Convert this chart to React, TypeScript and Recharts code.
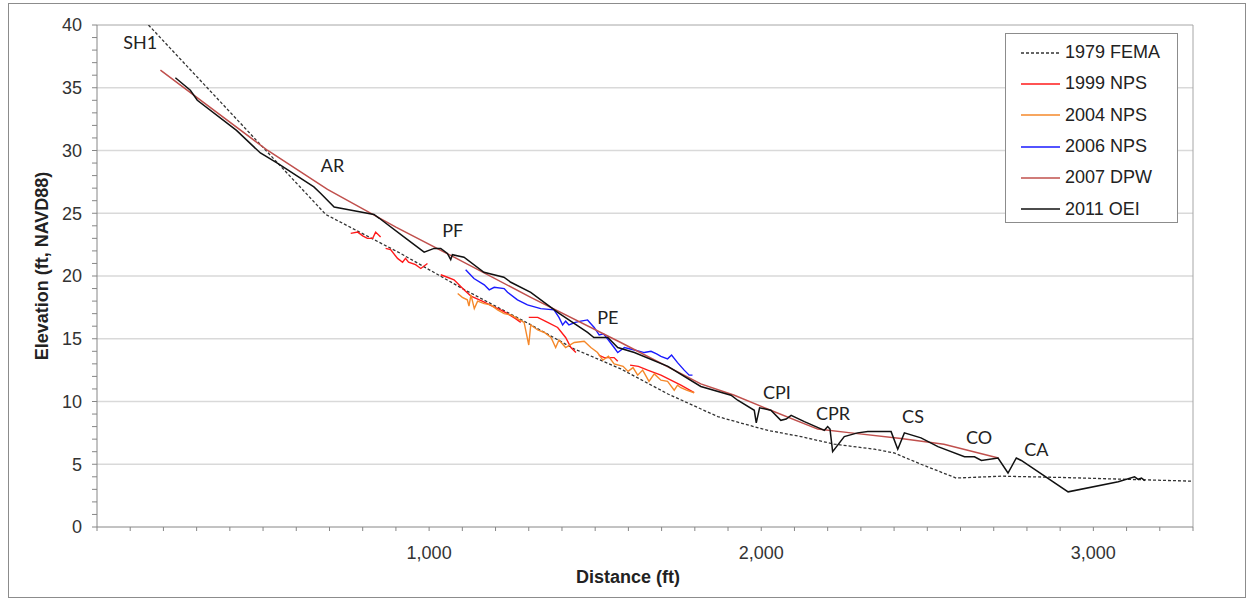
import React from 'react'
import { LineChart, Line, XAxis, YAxis, ReferenceLine, ReferenceDot, Legend, Label } from 'recharts'

// distance (ft), elevation (ft NAVD88)
const fema1979 = [
  [155, 40], [689, 24.9], [914, 21.8], [1100, 19.0], [1300, 16.2], [1436, 14.2], [1577, 12.6],
  [1719, 10.6], [1869, 8.8], [1950, 8.2], [2020, 7.7], [2120, 7.2], [2220, 6.6], [2341, 6.2],
  [2400, 5.9], [2481, 5.0], [2587, 3.9], [2723, 4.05], [2900, 3.95], [3100, 3.8], [3300, 3.65],
]

const nps1999Segments = [
  [[764, 23.4], [785, 23.5], [800, 23.2], [814, 23.0], [830, 23.0], [839, 23.5], [854, 23.1]],
  [[869, 22.2], [884, 22.1], [905, 21.4], [920, 21.1], [929, 21.4], [938, 21.1], [959, 20.9], [975, 20.6], [995, 21.0]],
  [[1035, 20.1], [1055, 19.9], [1075, 19.7], [1090, 19.3], [1105, 18.9], [1126, 18.4], [1160, 18.0], [1190, 17.6],
    [1215, 17.3], [1236, 17.0], [1260, 16.6], [1276, 16.3]],
  [[1300, 16.7], [1327, 16.7], [1357, 16.3], [1387, 15.9], [1411, 15.1], [1427, 14.3], [1442, 13.9]],
  [[1511, 13.7], [1527, 13.5], [1557, 13.5], [1568, 13.2]],
  [[1605, 12.9], [1630, 12.8], [1658, 12.5], [1698, 12.1], [1728, 11.7], [1758, 11.3], [1798, 10.7]],
]

const nps2004 = [
  [1086, 18.6], [1100, 18.3], [1115, 18.1], [1120, 17.6], [1126, 18.5], [1136, 17.4], [1146, 18.0], [1166, 17.8],
  [1186, 17.7], [1206, 17.3], [1226, 17.0], [1246, 16.9], [1266, 16.6], [1286, 16.3], [1300, 14.5], [1306, 16.1],
  [1327, 15.7], [1347, 15.5], [1367, 15.1], [1381, 14.3], [1391, 14.9], [1411, 14.3], [1437, 14.7], [1467, 14.8],
  [1487, 14.3], [1507, 13.9], [1523, 13.3], [1540, 13.6], [1557, 13.0], [1584, 12.8], [1599, 12.4], [1614, 12.7],
  [1628, 12.1], [1643, 12.5], [1662, 11.6], [1678, 12.2], [1698, 11.7], [1718, 11.6], [1738, 10.9], [1748, 11.3],
  [1758, 11.1], [1775, 10.9], [1798, 10.7],
]

const nps2006 = [
  [1110, 20.5], [1135, 19.8], [1166, 19.3], [1181, 18.9], [1196, 19.1], [1226, 19.0], [1236, 18.7], [1266, 18.1],
  [1296, 17.7], [1336, 17.4], [1376, 17.3], [1391, 16.7], [1402, 16.1], [1411, 16.4], [1421, 16.1], [1440, 16.3],
  [1457, 16.4], [1477, 16.5], [1497, 15.9], [1512, 15.3], [1525, 15.4], [1537, 15.0], [1557, 14.3], [1568, 13.9],
  [1588, 14.3], [1618, 14.1], [1648, 13.9], [1668, 14.0], [1685, 13.8], [1698, 13.6], [1718, 13.4], [1730, 13.7],
  [1748, 13.1], [1768, 12.5], [1783, 12.1], [1793, 12.1],
]

const dpw2007 = [
  [191, 36.4], [514, 30.0], [694, 26.9], [900, 23.9], [1075, 21.5], [1306, 18.3], [1577, 14.7], [1818, 11.4],
  [1919, 10.5], [2019, 9.4], [2170, 7.8], [2270, 7.5], [2421, 7.05], [2550, 6.6], [2714, 5.5],
]

const oei2011 = [
  [236, 35.8], [281, 34.8], [302, 34.0], [420, 31.6], [492, 29.8], [543, 29.0], [653, 27.1], [673, 26.6],
  [714, 25.5], [754, 25.3], [834, 24.9], [850, 24.6], [935, 22.9], [985, 21.9], [1015, 22.2], [1035, 22.2],
  [1055, 21.8], [1065, 21.3], [1070, 21.7], [1105, 21.5], [1165, 20.3], [1225, 19.9], [1246, 19.5], [1306, 18.7],
  [1387, 17.1], [1477, 15.5], [1496, 15.1], [1538, 15.1], [1568, 14.3], [1618, 13.9], [1719, 12.8], [1818, 11.2],
  [1909, 10.5], [1929, 10.1], [1979, 9.3], [1985, 8.3], [1995, 9.5], [2029, 9.3], [2059, 8.5], [2075, 8.6],
  [2090, 8.9], [2130, 8.4], [2190, 7.7], [2200, 8.0], [2207, 7.8], [2215, 6.0], [2250, 7.2], [2290, 7.5],
  [2321, 7.6], [2391, 7.6], [2411, 6.2], [2431, 7.5], [2481, 7.1], [2532, 6.4], [2612, 5.6], [2642, 5.6],
  [2663, 5.3], [2713, 5.5], [2743, 4.3], [2768, 5.5], [2783, 5.3], [2924, 2.8], [3075, 3.6], [3124, 4.0],
  [3135, 3.8], [3145, 3.9], [3155, 3.7],
]

const annotations = [
  { label: 'SH1', x: 130, y: 38.6 },
  { label: 'AR', x: 709, y: 28.8 },
  { label: 'PF', x: 1071, y: 23.6 },
  { label: 'PE', x: 1538, y: 16.7 },
  { label: 'CPI', x: 2047, y: 10.7 },
  { label: 'CPR', x: 2216, y: 9.0 },
  { label: 'CS', x: 2457, y: 8.8 },
  { label: 'CO', x: 2656, y: 7.1 },
  { label: 'CA', x: 2828, y: 6.2 },
]

const xLabelTicks = [1000, 2000, 3000]
const yLabelTicks = [0, 5, 10, 15, 20, 25, 30, 35, 40]
const gridValues = [5, 10, 15, 20, 25, 30, 35]

const xTicks = Array.from({ length: 34 }, (_, i) => i * 100)
const yTicks = Array.from({ length: 41 }, (_, i) => i)

const toPts = (arr: number[][]) => arr.map(([x, y]) => ({ x, y }))

// gaps between 1999 segments
const nps1999 = nps1999Segments.flatMap((seg, i) => {
  const pts = toPts(seg) as { x: number; y: number | null }[]
  if (i < nps1999Segments.length - 1) pts.push({ x: seg[seg.length - 1][0] + 5, y: null })
  return pts
})

const series = [
  { name: '1979 FEMA', color: '#333333', dash: '3 2', width: 1.3, data: toPts(fema1979) },
  { name: '1999 NPS', color: '#ff1a1a', dash: undefined, width: 1.4, data: nps1999 },
  { name: '2004 NPS', color: '#f5882a', dash: undefined, width: 1.4, data: toPts(nps2004) },
  { name: '2006 NPS', color: '#1a1aff', dash: undefined, width: 1.4, data: toPts(nps2006) },
  { name: '2007 DPW', color: '#c0504d', dash: undefined, width: 1.5, data: toPts(dpw2007) },
  { name: '2011 OEI', color: '#111111', dash: undefined, width: 1.5, data: toPts(oei2011) },
]

const FONT = '"Liberation Sans", Arial, sans-serif'

function LegendBox() {
  return (
    <div style={{
      boxSizing: 'border-box',
      width: 173,
      height: 190,
      border: '1px solid #8c8c8c',
      background: '#fff',
      paddingTop: 3,
      fontFamily: FONT,
      fontSize: 18,
      color: '#222'
    }}>
      {series.map(s => (
        <div key={s.name} style={{ height: 31.3, display: 'flex', alignItems: 'center' }}>
          <svg width={59} height={10} style={{ flex: 'none' }}>
            <line x1={15} y1={5} x2={54} y2={5} stroke={s.color} strokeWidth={s.width} strokeDasharray={s.dash} />
          </svg>
          <span>{s.name}</span>
        </div>
      ))}
    </div>
  )
}

export default function App() {
  return (
    <div style={{ position: 'absolute', left: 0, top: 0, width: 1250, height: 600, background: '#fff' }}>
      <div style={{ position: 'absolute', left: 8, top: 3, width: 1236, height: 593, border: '1px solid #8c8c8c' }} />
      <div style={{ position: 'absolute', left: 0, top: 0 }}>
        <LineChart width={1250} height={600} margin={{ top: 25, right: 57, bottom: 33, left: 37 }}>
          {gridValues.map(v => (
            <ReferenceLine key={v} y={v} stroke="#d9d9d9" strokeWidth={1.5} />
          ))}
          <ReferenceLine y={40} stroke="#a6a6a6" />
          <ReferenceLine x={3300} stroke="#a6a6a6" />
          <XAxis
            type="number"
            dataKey="x"
            domain={[0, 3300]}
            ticks={xTicks}
            allowDataOverflow
            height={40}
            tickSize={4}
            tickMargin={15}
            interval={0}
            stroke="#868686"
            tick={{ fill: '#333', fontSize: 18, fontFamily: FONT }}
            tickFormatter={(v: number) => (xLabelTicks.includes(v) ? v.toLocaleString('en-US') : '')}
          >
            <Label content={() => (
              <text x={628} y={583} textAnchor="middle" fontFamily={FONT} fontSize={18} fontWeight="bold" fill="#222">
                Distance (ft)
              </text>
            )} />
          </XAxis>
          <YAxis
            type="number"
            domain={[0, 40]}
            ticks={yTicks}
            allowDataOverflow
            width={60}
            tickSize={5}
            tickMargin={10}
            interval={0}
            stroke="#868686"
            tick={{ fill: '#333', fontSize: 18, fontFamily: FONT }}
            tickFormatter={(v: number) => (yLabelTicks.includes(v) ? String(v) : '')}
          >
            <Label content={() => (
              <text x={48} y={266} transform="rotate(-90 48 266)" textAnchor="middle" fontFamily={FONT} fontSize={18} fontWeight="bold" fill="#222">
                Elevation (ft, NAVD88)
              </text>
            )} />
          </YAxis>
          {series.map(s => (
            <Line
              key={s.name}
              name={s.name}
              data={s.data}
              dataKey="y"
              type="linear"
              stroke={s.color}
              strokeWidth={s.width}
              strokeDasharray={s.dash}
              dot={false}
              activeDot={false}
              connectNulls={false}
              isAnimationActive={false}
            />
          ))}
          {annotations.map(a => (
            <ReferenceDot
              key={a.label}
              x={a.x}
              y={a.y}
              r={0}
              fill="none"
              stroke="none"
              label={{ value: a.label, position: 'center', fill: '#222', fontSize: 18, fontFamily: 'Lato, "Open Sans", sans-serif' }}
            />
          ))}
          <Legend
            layout="vertical"
            align="center"
            verticalAlign="middle"
            wrapperStyle={{ left: 1005, top: 33, width: 173, height: 190 }}
            content={() => <LegendBox />}
          />
        </LineChart>
      </div>
    </div>
  )
}
